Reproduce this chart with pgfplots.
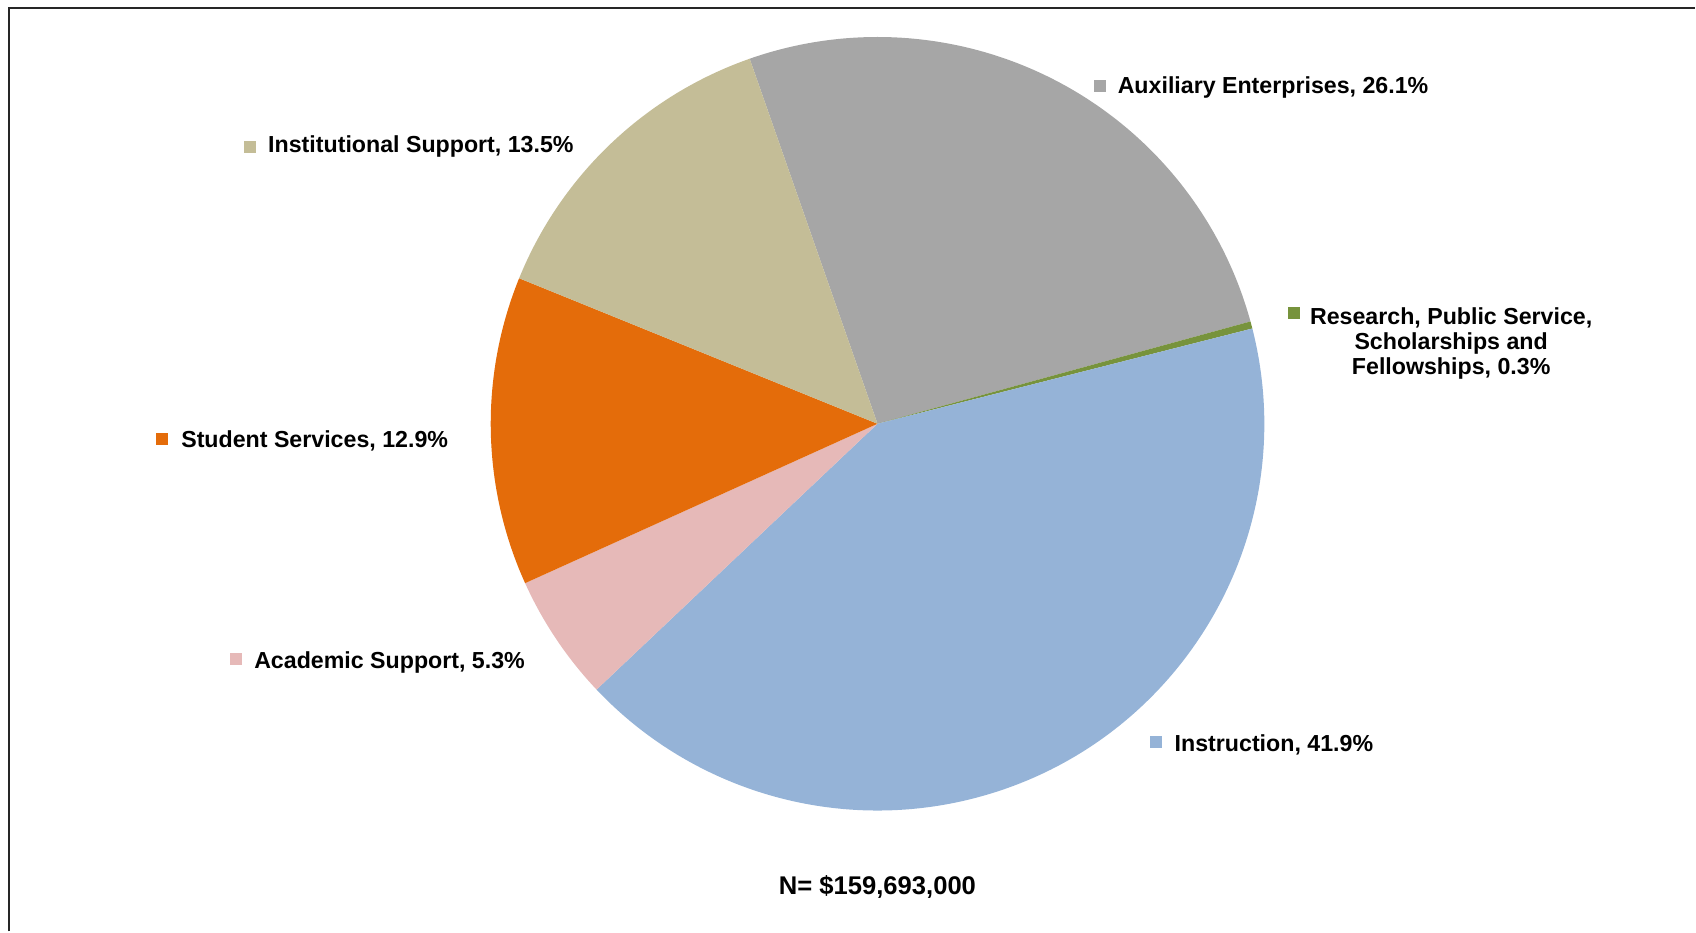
\documentclass[border=0pt]{standalone}
\usepackage{pgfplots}
\pgfplotsset{compat=1.18}
\usepackage{fontspec}
\setmainfont{Liberation Sans}
\definecolor{cAux}{HTML}{A6A6A6}
\definecolor{cRes}{HTML}{77933C}
\definecolor{cIns}{HTML}{95B3D7}
\definecolor{cAca}{HTML}{E6B9B8}
\definecolor{cStu}{HTML}{E46C0A}
\definecolor{cIst}{HTML}{C4BD97}
% start angle of the first slice (degrees, counter-clockwise from east), slices run clockwise
\newcommand{\startang}{109.3}
% #1 cumulative percent before slice, #2 slice percent, #3 colour
\newcommand{\slice}[3]{%
  \fill[#3] (axis cs:878,424) -- ++({\startang-3.6*(#1)}:193.5pt)
    arc[start angle={\startang-3.6*(#1)}, end angle={\startang-3.6*(#1+#2)}, radius=193.5pt] -- cycle;}
\newcommand{\key}[3]{\fill[#1] (axis cs:#2-6,#3-6) rectangle (axis cs:#2+6,#3+6);}
\newcommand{\lbl}{\fontsize{11.6}{13}\selectfont\bfseries}
\begin{document}
\begin{tikzpicture}[font=\lbl]
\begin{axis}[
  scale only axis, width=848pt, height=466pt,
  xmin=0, xmax=1696, ymin=0, ymax=932, y dir=reverse,
  hide axis, clip=false,
]
\path (axis cs:0,0) (axis cs:1696,932);
% slices: cumulative, percent
\slice{0}{26.1}{cAux}
\slice{26.1}{0.3}{cRes}
\slice{26.4}{41.9}{cIns}
\slice{68.3}{5.3}{cAca}
\slice{73.6}{12.9}{cStu}
\slice{86.5}{13.5}{cIst}
% labels
\key{cAux}{1101}{86}
\node[anchor=base west, inner sep=0pt] at (axis cs:1118,94) {\lbl Auxiliary Enterprises, 26.1\%};
\key{cRes}{1295}{313}
\node[anchor=base, inner sep=0pt] at (axis cs:1452,325) {\lbl Research, Public Service,};
\node[anchor=base, inner sep=0pt] at (axis cs:1452,350) {\lbl Scholarships and};
\node[anchor=base, inner sep=0pt] at (axis cs:1452,375) {\lbl Fellowships, 0.3\%};
\key{cIns}{1157}{742}
\node[anchor=base west, inner sep=0pt] at (axis cs:1175,752) {\lbl Instruction, 41.9\%};
\key{cAca}{236}{659}
\node[anchor=base west, inner sep=0pt] at (axis cs:254,669) {\lbl Academic Support, 5.3\%};
\key{cStu}{162}{439}
\node[anchor=base west, inner sep=0pt] at (axis cs:181,448) {\lbl Student Services, 12.9\%};
\key{cIst}{250}{147}
\node[anchor=base west, inner sep=0pt] at (axis cs:268,153) {\lbl Institutional Support, 13.5\%};
\node[anchor=base, inner sep=0pt] at (axis cs:878,895) {\fontsize{12.8}{14}\selectfont\bfseries N= \$159,693,000};
% frame
\draw[line width=1pt, black!85, line cap=butt] (axis cs:9,932) -- (axis cs:9,8) -- (axis cs:1696,8);
\end{axis}
\end{tikzpicture}
\end{document}
